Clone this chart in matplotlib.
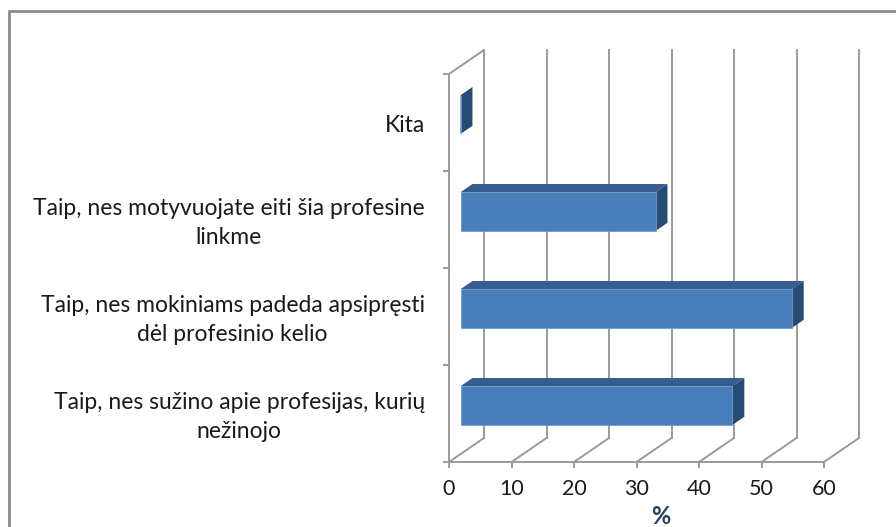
import matplotlib.pyplot as plt
from matplotlib.patches import Polygon, Rectangle

# data, bottom to top
categories = [
    "Taip, nes sužino apie profesijas, kurių\nnežinojo",
    "Taip, nes mokiniams padeda apsipręsti\ndėl profesinio kelio",
    "Taip, nes motyvuojate eiti šia profesine\nlinkme",
    "Kita",
]
values = [43.5, 53.0, 31.2, 0.0]
xticks = [0, 10, 20, 30, 40, 50, 60]
xlabel = "%"

plt.rcParams['font.family'] = ['Lato', 'DejaVu Sans']

W, H = 896, 527
fig = plt.figure(figsize=(W / 100, H / 100), dpi=100)
ax = fig.add_axes([449 / W, (H - 462) / H, 375 / W, 388 / H])
ax.set_xlim(0, 60)
ax.set_ylim(0, len(categories))

# 3d depth offset (data units)
dx = 35 / 375 * 60
dy = 24 / 388 * len(categories)
grid_c = '#9a9a9a'
lw = 1.4

# back wall gridlines and floor diagonals
for t in xticks:
    ax.plot([t + dx, t + dx], [dy, len(categories) + dy], color=grid_c, lw=lw, clip_on=False, zorder=1)
    ax.plot([t, t + dx], [0, dy], color=grid_c, lw=lw, clip_on=False, zorder=1)
# left wall top edge
ax.plot([0, dx], [len(categories), len(categories) + dy], color=grid_c, lw=lw, clip_on=False, zorder=1)

# bars
d0, d1 = 0.33, 0.67
half = 0.2
c_front, c_top, c_side = '#4a7ebb', '#355e8f', '#274c74'
for i, v in enumerate(values):
    yc = i + 0.5
    ox, oy = d0 * dx, d0 * dy
    ex, ey = d1 * dx, d1 * dy
    y0, y1 = yc - half, yc + half
    front = Rectangle((ox, y0 + oy), v, y1 - y0, facecolor=c_front, edgecolor='#6f9bd0', lw=0.6, zorder=3, clip_on=False)
    top = Polygon([(ox, y1 + oy), (ox + v, y1 + oy), (ex + v, y1 + ey), (ex, y1 + ey)],
                  closed=True, facecolor=c_top, edgecolor='none', zorder=3, clip_on=False)
    side = Polygon([(ox + v, y0 + oy), (ox + v, y1 + oy), (ex + v, y1 + ey), (ex + v, y0 + ey)],
                   closed=True, facecolor=c_side, edgecolor='none', zorder=3, clip_on=False)
    for p in (top, side, front):
        ax.add_patch(p)

# axes styling
for s in ('top', 'right'):
    ax.spines[s].set_visible(False)
for s in ('left', 'bottom'):
    ax.spines[s].set_color(grid_c)
    ax.spines[s].set_linewidth(lw)
ax.set_xticks(xticks)
ax.set_xticklabels([str(t) for t in xticks], fontsize=15.5, color='#1a1a1a')
ax.set_yticks(range(len(categories) + 1))
ax.set_yticklabels([])
ax.tick_params(axis='both', direction='out', length=4.5, width=lw, color=grid_c)
ax.tick_params(axis='x', pad=8)

for i, lab in enumerate(categories):
    ax.annotate(lab, xy=(0, i + 0.5), xytext=(-17.5, -2.5), textcoords='offset points',
                ha='right', va='center', multialignment='center', fontsize=16.5,
                color='#1a1a1a', linespacing=1.45)

fig.text(661 / W, 1 - 517 / H, xlabel, ha='center', va='center', fontsize=17,
         fontweight='bold', color='#243f60')

# outer chart frame
fig.patches.append(Rectangle((9 / W, -0.2), 2, 1.2 - 11 / H, transform=fig.transFigure,
                             fill=False, edgecolor='#8c8c8c', lw=2))

fig.savefig('out.png', dpi=100)
